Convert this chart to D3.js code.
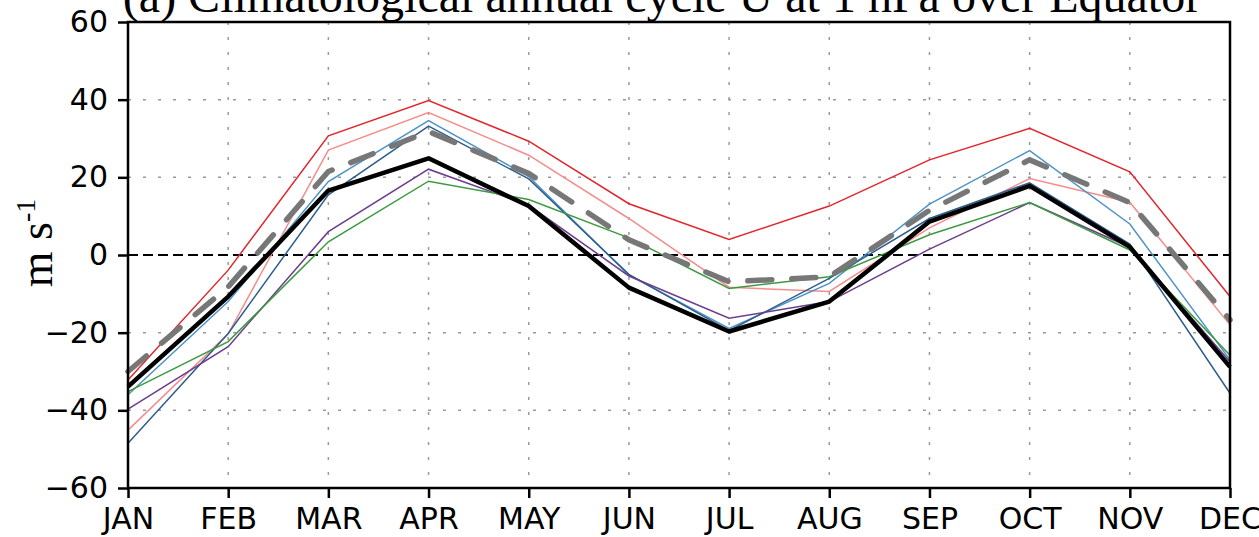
<!DOCTYPE html>
<html>
<head>
<meta charset="utf-8">
<script src="https://cdn.jsdelivr.net/npm/d3@7"></script>
<style>
body{margin:0;background:#fff;}
svg{display:block;}
</style>
</head>
<body>
<svg id="chart" width="1259" height="537"></svg>
<script>
// monthly climatology of U at 1 hPa, equator
var months=["JAN","FEB","MAR","APR","MAY","JUN","JUL","AUG","SEP","OCT","NOV","DEC"];
var yTicks=[-60,-40,-20,0,20,40,60];

var redVals      =[-32.2,-3.9,30.7,39.8,29.3,13.2,4.0,12.6,24.5,32.6,21.4,-10.7];
var pinkVals     =[-45.1,-20.3,27.0,36.7,25.7,9.4,-8.3,-9.4,7.0,19.7,13.6,-18.0];
var ltBlueVals   =[-36.0,-12.0,18.9,34.6,20.2,-5.2,-18.9,-7.3,13.1,26.9,8.0,-27.0];
var dkBlueVals   =[-48.5,-20.2,15.5,33.2,19.6,-5.0,-19.5,-6.0,9.4,18.6,2.8,-35.6];
var purpleVals   =[-39.7,-23.6,6.0,22.1,12.8,-5.4,-16.3,-12.0,1.5,13.5,2.0,-27.5];
var greenVals    =[-35.2,-22.3,3.4,19.0,14.3,4.4,-8.6,-5.6,5.2,13.5,1.3,-25.8];
var obsVals      =[-33.9,-10.7,16.6,24.9,12.6,-8.4,-19.7,-12.0,8.6,17.8,2.1,-28.8];
var meanVals     =[-30.0,-8.2,21.5,31.8,21.0,3.9,-6.9,-5.6,11.5,24.5,13.5,-16.7];

var series=[
  {v:redVals,    c:"#e0262c", w:1.5},
  {v:pinkVals,   c:"#f48d8c", w:1.5},
  {v:ltBlueVals, c:"#4f93c6", w:1.5},
  {v:dkBlueVals, c:"#2c5e8c", w:1.5},
  {v:purpleVals, c:"#6b3d8c", w:1.5},
  {v:greenVals,  c:"#3c9a3e", w:1.5}
];

var svg=d3.select("#chart");
var L=128, R=1230, T=22, B=488;

var x=d3.scalePoint().domain(months).range([L,R]);
var y=d3.scaleLinear().domain([-60,60]).range([B,T]);

// grid
var grid=svg.append("g");
grid.selectAll("line.v").data(months).enter().append("line")
   .attr("x1",function(d){return x(d);}).attr("x2",function(d){return x(d);})
   .attr("y1",T).attr("y2",B)
   .attr("stroke","#9a9a9a").attr("stroke-width",1.5)
   .attr("stroke-dasharray","3,12");
grid.selectAll("line.h").data(yTicks).enter().append("line")
   .attr("x1",L).attr("x2",R)
   .attr("y1",function(d){return y(d);}).attr("y2",function(d){return y(d);})
   .attr("stroke","#9a9a9a").attr("stroke-width",1.5)
   .attr("stroke-dasharray","3,12");

// zero line
svg.append("line")
   .attr("x1",L).attr("x2",R).attr("y1",y(0)).attr("y2",y(0))
   .attr("stroke","#000").attr("stroke-width",2)
   .attr("stroke-dasharray","10,5");

var lineGen=d3.line()
   .x(function(d,i){return x(months[i]);})
   .y(function(d){return y(d);});

series.forEach(function(s){
  svg.append("path")
     .attr("d",lineGen(s.v))
     .attr("fill","none")
     .attr("stroke",s.c)
     .attr("stroke-width",s.w);
});

svg.append("path")
   .attr("d",lineGen(obsVals))
   .attr("fill","none")
   .attr("stroke","#000")
   .attr("stroke-width",4.5)
   .attr("stroke-linejoin","round");

svg.append("path")
   .attr("d",lineGen(meanVals))
   .attr("fill","none")
   .attr("stroke","#777")
   .attr("stroke-width",5.5)
   .attr("stroke-linecap","round")
   .attr("stroke-dasharray","24,20");

// frame
svg.append("rect")
   .attr("x",L).attr("y",T).attr("width",R-L).attr("height",B-T)
   .attr("fill","none").attr("stroke","#000").attr("stroke-width",2.5);

var tickFont="'DejaVu Sans',sans-serif";

var yAxis=svg.append("g")
   .attr("transform","translate("+L+",0)")
   .call(d3.axisLeft(y).tickValues(yTicks).tickSize(10).tickPadding(10));
var xAxis=svg.append("g")
   .attr("transform","translate(0,"+B+")")
   .call(d3.axisBottom(x).tickSize(10).tickPadding(10));

[yAxis,xAxis].forEach(function(a){
  a.select(".domain").remove();
  a.selectAll(".tick line").attr("stroke","#000").attr("stroke-width",2.5);
  a.selectAll("text").attr("fill","#000")
     .style("font-family",tickFont).style("font-size","30px");
});

// title (cut off at top, as in the original figure)
svg.append("text")
   .attr("x",662).attr("y",12)
   .attr("text-anchor","middle")
   .style("font-family","'Liberation Serif','DejaVu Serif',serif")
   .style("font-size","48px")
   .text("(a) Climatological annual cycle U at 1 hPa over Equator");

// y label
var yl=svg.append("text")
   .attr("transform","translate(52,243) rotate(-90)")
   .attr("text-anchor","middle")
   .style("font-family","'Liberation Serif','DejaVu Serif',serif")
   .style("font-size","46px");
yl.append("tspan").text("m s");
yl.append("tspan").attr("dy",-17).style("font-size","28px").text("-1");
</script>
</body>
</html>
